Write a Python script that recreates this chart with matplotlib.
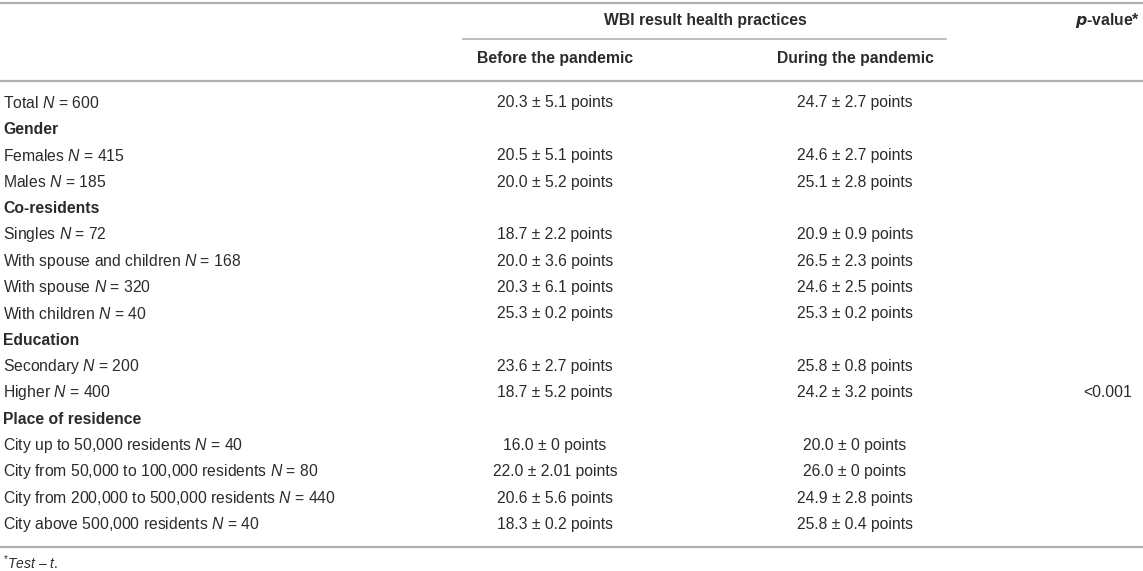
import matplotlib.pyplot as plt

plt.rcParams['font.family'] = ['Liberation Sans', 'DejaVu Sans']
plt.rcParams['mathtext.fontset'] = 'custom'
plt.rcParams['mathtext.rm'] = 'Liberation Sans'
plt.rcParams['mathtext.it'] = 'Liberation Sans:italic'
plt.rcParams['mathtext.bf'] = 'Liberation Sans:bold'

# table content
row_labels = ["Total", "Gender", "Females", "Males", "Co-residents", "Singles",
              "With spouse and children", "With spouse", "With children",
              "Education", "Secondary", "Higher", "Place of residence",
              "City up to 50,000 residents", "City from 50,000 to 100,000 residents",
              "City from 200,000 to 500,000 residents", "City above 500,000 residents"]
n_values = [600, None, 415, 185, None, 72, 168, 320, 40, None, 200, 400, None,
            40, 80, 440, 40]
before_vals = ["20.3 ± 5.1", None, "20.5 ± 5.1", "20.0 ± 5.2", None, "18.7 ± 2.2",
               "20.0 ± 3.6", "20.3 ± 6.1", "25.3 ± 0.2", None, "23.6 ± 2.7",
               "18.7 ± 5.2", None, "16.0 ± 0", "22.0 ± 2.01", "20.6 ± 5.6",
               "18.3 ± 0.2"]
during_vals = ["24.7 ± 2.7", None, "24.6 ± 2.7", "25.1 ± 2.8", None, "20.9 ± 0.9",
               "26.5 ± 2.3", "24.6 ± 2.5", "25.3 ± 0.2", None, "25.8 ± 0.8",
               "24.2 ± 3.2", None, "20.0 ± 0", "26.0 ± 0", "24.9 ± 2.8",
               "25.8 ± 0.4"]
p_value = "<0.001"
p_row = "Higher"

W, H = 1143, 571
fig = plt.figure(figsize=(W / 100, H / 100), dpi=100)
ax = fig.add_axes([0, 0, 1, 1])
ax.set_xlim(0, W)
ax.set_ylim(H, 0)
ax.axis('off')

txt = '#2b2b2b'
line = '#b0b0b0'
fs = 11.3

# rules
ax.axhline(3, color=line, lw=1.6)
ax.plot([463, 946], [39, 39], color=line, lw=1.2)
ax.axhline(81, color=line, lw=1.6)
ax.axhline(547, color=line, lw=1.6)

# header
ax.text(705, 20, "WBI result health practices", ha='center', va='center',
        fontsize=fs, fontweight='bold', color=txt)
ax.text(1140, 20, r"$\mathbfit{p}$-value*", ha='right', va='center', fontsize=fs,
        fontweight='bold', color=txt)
ax.text(555, 59, "Before the pandemic", ha='center', va='center',
        fontsize=fs, fontweight='bold', color=txt)
ax.text(855, 59, "During the pandemic", ha='center', va='center',
        fontsize=fs, fontweight='bold', color=txt)

y0, dy = 103, 26.35
for i, lab in enumerate(row_labels):
    y = y0 + i * dy
    if n_values[i] is None:
        ax.text(3, y, lab, ha='left', va='center', fontsize=fs,
                fontweight='bold', color=txt)
        continue
    ax.text(3, y, f"{lab} $N$ = {n_values[i]}", ha='left', va='center',
            fontsize=fs, color=txt)
    ax.text(555, y, f"{before_vals[i]} points", ha='center', va='center',
            fontsize=fs, color=txt)
    ax.text(855, y, f"{during_vals[i]} points", ha='center', va='center',
            fontsize=fs, color=txt)
    if lab == p_row:
        ax.text(1108, y, p_value, ha='center', va='center', fontsize=fs,
                color=txt)

ax.text(3, 563, r"$^{*}$$Test$ – $t$.", ha='left', va='center', fontsize=10,
        color=txt)

fig.savefig('out.png', dpi=100)
